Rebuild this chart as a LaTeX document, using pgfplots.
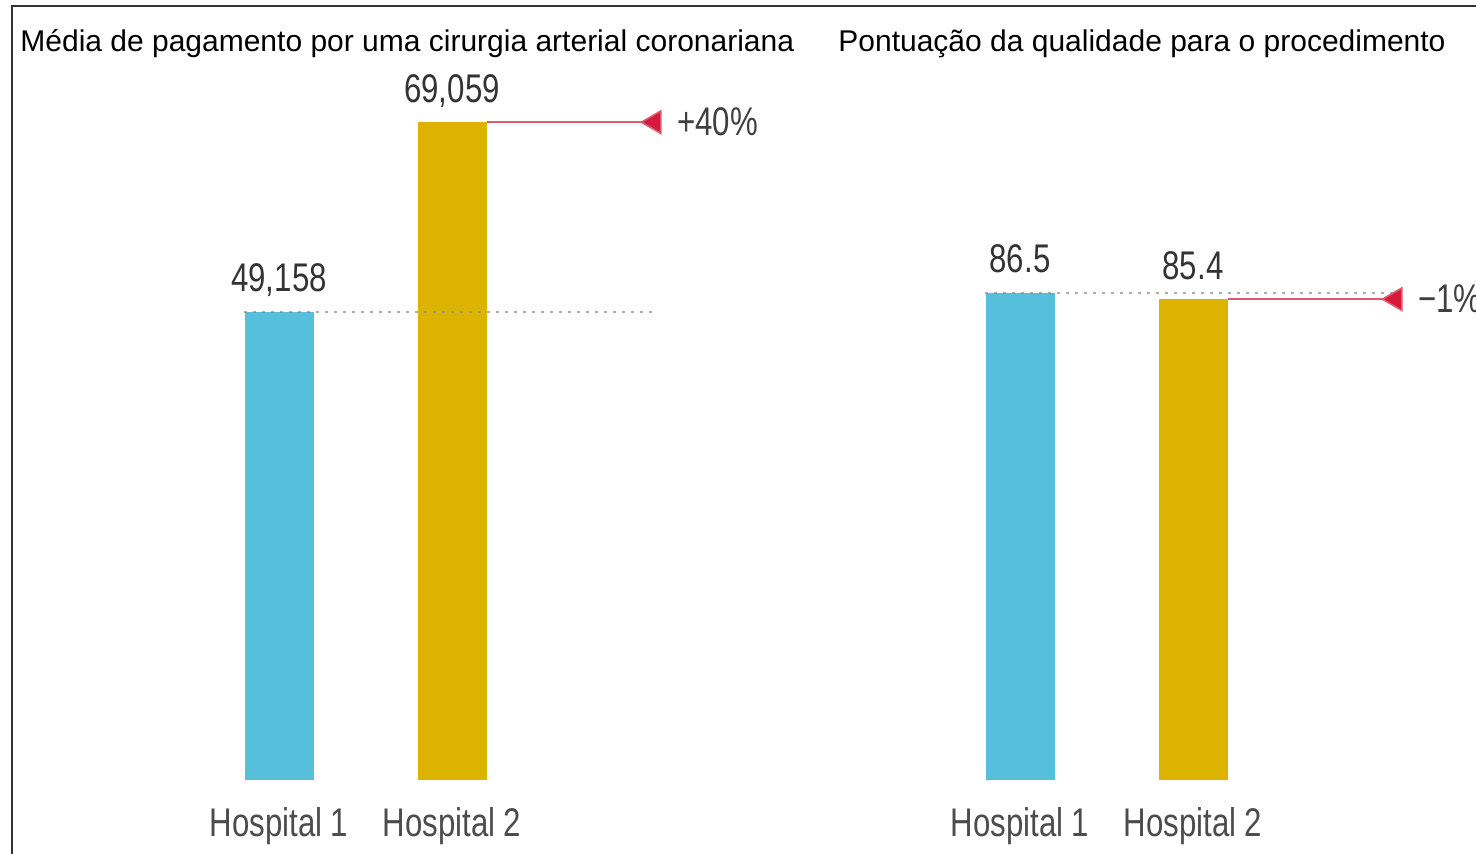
\documentclass[border=0pt]{standalone}
\usepackage{fontspec}
\setmainfont{Liberation Sans}
\newfontfamily\condfont[FakeStretch=0.78]{Liberation Sans}
\usepackage{pgfplots}
\pgfplotsset{compat=1.18}
\definecolor{hblue}{RGB}{86,191,220}
\definecolor{hgold}{RGB}{220,180,0}
\definecolor{hred}{RGB}{215,25,60}
\definecolor{hline}{RGB}{222,90,110}
\newcommand{\valfont}{\condfont\fontsize{20}{22}\selectfont}
\pgfplotsset{hosp/.style={
  scale only axis, clip=false, anchor=south west,
  xmin=-1, ymin=0,
  axis line style={draw=none}, ytick=\empty,
  xtick={0,1}, xticklabels={Hospital 1,Hospital 2}, major tick length=0pt,
  xticklabel style={font=\valfont, text=black!70, anchor=north, yshift=-10pt},
  nodes near coords style={font=\valfont, text=black!80, anchor=base, inner sep=0pt, yshift=10pt},
}}
\begin{document}
\begin{tikzpicture}
\useasboundingbox (0,0) rectangle (738pt,427pt);
\fill[white] (0,0) rectangle (738pt,427pt);
\draw[line width=1pt, black!80] (6pt,0) -- (6pt,424pt) -- (738pt,424pt);
\node[anchor=base west, inner sep=0pt, font=\fontsize{15}{17}\selectfont] at (10pt,401pt) {Média de pagamento por uma cirurgia arterial coronariana};
\node[anchor=base west, inner sep=0pt, font=\fontsize{15}{17}\selectfont] at (419pt,401pt) {Pontuação da qualidade para o procedimento};

\begin{axis}[hosp, at={(53pt,37pt)}, width=346pt, height=381pt, xmax=3, ymax=80000]
\addplot[ybar, bar width=34.5pt, bar shift=0pt, fill=hblue, draw=none, nodes near coords, point meta=explicit symbolic] coordinates {(0,49158) [49,158]};
\addplot[ybar, bar width=34.5pt, bar shift=0pt, fill=hgold, draw=none, nodes near coords, point meta=explicit symbolic] coordinates {(1,69059) [69,059]};
\addplot[black!45, dash pattern=on 1.5pt off 3pt, line width=1.2pt, opacity=0.7] coordinates {(-0.2,49158) (2.17,49158)};
\addplot[hline, line width=0.8pt, mark=triangle*, mark indices={2}, mark size=6.5pt, mark options={rotate=90, fill=hred, draw=none}] coordinates {(1.2,69059) (2.17,69059)};
\node[anchor=west, font=\valfont, text=black!75, inner sep=0pt] at (axis cs:2.3,69059) {+40\%};
\end{axis}

\begin{axis}[hosp, at={(423.5pt,37pt)}, width=302.75pt, height=281.5pt, xmax=2.5, ymax=100]
\addplot[ybar, bar width=34.5pt, bar shift=0pt, fill=hblue, draw=none, nodes near coords, point meta=explicit symbolic] coordinates {(0,86.5) [86.5]};
\addplot[ybar, bar width=34.5pt, bar shift=0pt, fill=hgold, draw=none, nodes near coords, point meta=explicit symbolic] coordinates {(1,85.4) [85.4]};
\addplot[black!45, dash pattern=on 1.5pt off 3pt, line width=1.2pt, opacity=0.7] coordinates {(-0.2,86.5) (2.17,86.5)};
\addplot[hline, line width=0.8pt, mark=triangle*, mark indices={2}, mark size=6.5pt, mark options={rotate=90, fill=hred, draw=none}] coordinates {(1.2,85.4) (2.17,85.4)};
\node[anchor=west, font=\valfont, text=black!75, inner sep=0pt] at (axis cs:2.3,85.4) {−1\%};
\end{axis}
\end{tikzpicture}
\end{document}
